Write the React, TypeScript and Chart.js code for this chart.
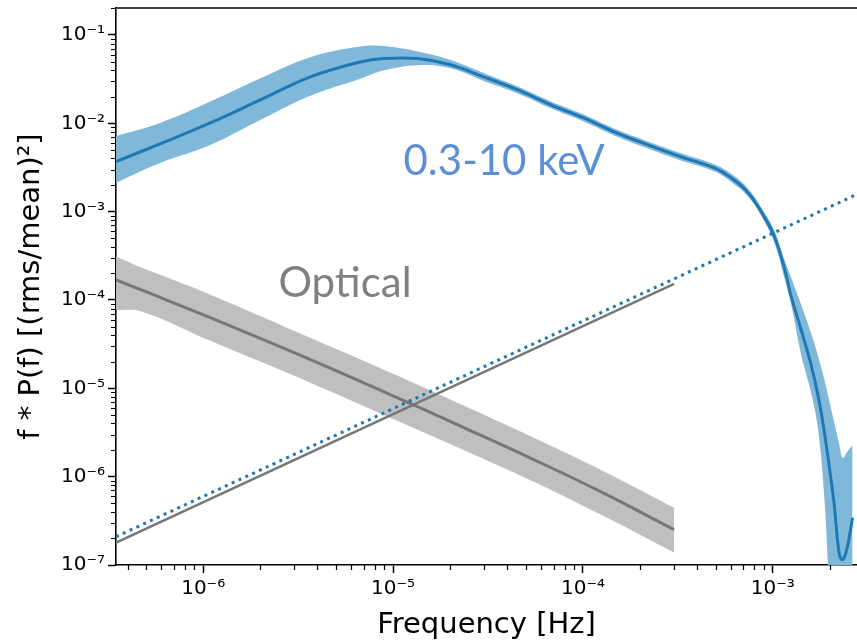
import React, { useEffect, useRef } from 'react';
import { Chart, registerables } from 'chart.js';

Chart.register(...registerables);

// ---------- data ----------
const xrayFreq = [
  3.48e-7, 5.93e-7, 1.09e-6, 2.0e-6, 3.67e-6, 6.73e-6, 8.9e-6, 1.35e-5, 2.01e-5,
  3.0e-5, 4.54e-5, 6.78e-5, 1.01e-4, 1.46e-4, 2.2e-4, 3.29e-4, 4.91e-4, 6.04e-4,
  7.43e-4, 9.02e-4, 1.02e-3, 1.15e-3, 1.25e-3, 1.41e-3, 1.6e-3, 1.74e-3, 1.87e-3,
  2.09e-3, 2.24e-3, 2.33e-3, 2.45e-3, 2.63e-3,
];
const xrayMedian = [
  3.69e-3, 5.85e-3, 1.01e-2, 1.84e-2, 3.35e-2, 4.95e-2, 5.4e-2, 5.4e-2, 4.6e-2,
  3.35e-2, 2.39e-2, 1.62e-2, 1.15e-2, 8.0e-3, 5.7e-3, 4.17e-3, 3.13e-3, 2.41e-3,
  1.63e-3, 8.73e-4, 5.19e-4, 2.31e-4, 1.09e-4, 4.6e-5, 1.75e-5, 7.8e-6, 3.15e-6,
  5.5e-7, 1.31e-7, 1.15e-7, 1.49e-7, 3.43e-7,
];
const xrayUpper = [
  7.2e-3, 1.01e-2, 1.76e-2, 3.23e-2, 5.6e-2, 7.4e-2, 7.5e-2, 6.5e-2, 5.21e-2,
  3.72e-2, 2.61e-2, 1.77e-2, 1.26e-2, 8.75e-3, 6.24e-3, 4.57e-3, 3.43e-3, 2.68e-3,
  1.81e-3, 9.8e-4, 6.07e-4, 2.85e-4, 1.78e-4, 8.83e-5, 4.04e-5, 2.22e-5, 1.25e-5,
  4.42e-6, 2.3e-6, 1.64e-6, 1.87e-6, 2.3e-6,
];
const xrayLower = [
  2.13e-3, 3.56e-3, 5.7e-3, 1.09e-2, 2.05e-2, 3.2e-2, 3.95e-2, 4.55e-2, 4.2e-2,
  3.02e-2, 2.18e-2, 1.48e-2, 1.05e-2, 7.3e-3, 5.2e-3, 3.8e-3, 2.86e-3, 2.17e-3,
  1.47e-3, 7.76e-4, 4.43e-4, 1.78e-4, 8.83e-5, 2.4e-5, 8.47e-6, 3.15e-6, 5.5e-7,
  1e-8, 1e-8, 1e-8, 1e-8, 1e-8,
];

const opticalFreq = [3.48e-7, 4.77e-7, 1.09e-6, 3.67e-6, 1.24e-5, 2.47e-5, 5.51e-5, 1.24e-4, 3.02e-4];
const opticalMedian = [1.69e-4, 1.29e-4, 6.3e-5, 2.11e-5, 6.7e-6, 3.44e-6, 1.56e-6, 6.76e-7, 2.51e-7];
const opticalUpper = [3.08e-4, 2.31e-4, 1.15e-4, 3.73e-5, 1.19e-5, 6.11e-6, 2.76e-6, 1.2e-6, 4.46e-7];
const opticalLower = [7.75e-5, 7.36e-5, 3.45e-5, 1.16e-5, 3.68e-6, 1.92e-6, 8.77e-7, 3.72e-7, 1.38e-7];

const opticalRiseFreq = [3.48e-7, 3.02e-4];
const opticalRise = [1.79e-7, 1.52e-4];

const whiteNoiseFreq = [3.475e-7, 2.775e-3];
const whiteNoise = [2.09e-7, 1.57e-3];

const xTickValues = [1e-6, 1e-5, 1e-4, 1e-3];
const xTickLabels = ['10⁻⁶', '10⁻⁵', '10⁻⁴', '10⁻³'];
const yTickValues = [1e-7, 1e-6, 1e-5, 1e-4, 1e-3, 1e-2, 1e-1];
const yTickLabels = ['10⁻⁷', '10⁻⁶', '10⁻⁵', '10⁻⁴', '10⁻³', '10⁻²', '10⁻¹'];

const X_MIN = 3.475e-7;
const X_MAX = 2.775e-3;
const Y_MIN = 1e-7;
const Y_MAX = 0.202;

const xrayLabel = { text: '0.3-10 keV', f: 1.135e-5, v: 2.6e-3 };
const opticalLabel = { text: 'Optical', f: 2.49e-6, v: 1.09e-4 };

// ---------- helpers ----------
const pts = (xs: number[], ys: number[]) => xs.map((x, i) => ({ x, y: ys[i] }));

const BLUE = '#1f77b4';
const BLUE_BAND = '#80b8da';
const GREY = '#777777';
const GREY_BAND = '#bfbfbf';

const decorPlugin = {
  id: 'decor',
  afterDatasetsDraw(chart: any) {
    const { ctx, scales } = chart;
    const x = scales.x;
    const y = scales.y;
    ctx.save();
    ctx.textBaseline = 'alphabetic';
    ctx.textAlign = 'left';
    ctx.font = '42px Lato';
    ctx.fillStyle = '#5a8fd8';
    ctx.fillText(xrayLabel.text, x.getPixelForValue(xrayLabel.f), y.getPixelForValue(xrayLabel.v));
    ctx.fillStyle = '#808080';
    ctx.fillText(opticalLabel.text, x.getPixelForValue(opticalLabel.f), y.getPixelForValue(opticalLabel.v));
    ctx.restore();
  },
  afterDraw(chart: any) {
    const { ctx, chartArea, scales } = chart;
    const x = scales.x;
    const y = scales.y;
    ctx.save();
    ctx.strokeStyle = '#000';
    ctx.lineWidth = 1.2;
    ctx.beginPath();
    for (let e = -8; e <= 0; e++) {
      for (let k = 2; k <= 9; k++) {
        const v = k * Math.pow(10, e);
        if (v > x.min && v < x.max) {
          const px = Math.round(x.getPixelForValue(v)) + 0.5;
          ctx.moveTo(px, chartArea.bottom);
          ctx.lineTo(px, chartArea.bottom + 5);
        }
        if (v > y.min && v < y.max) {
          const py = Math.round(y.getPixelForValue(v)) + 0.5;
          ctx.moveTo(chartArea.left, py);
          ctx.lineTo(chartArea.left - 5, py);
        }
      }
    }
    ctx.stroke();
    ctx.lineWidth = 1.6;
    ctx.beginPath();
    ctx.moveTo(chartArea.left, chartArea.top);
    ctx.lineTo(chartArea.right, chartArea.top);
    ctx.stroke();
    ctx.restore();
  },
};

export default function App() {
  const ref = useRef<HTMLCanvasElement | null>(null);

  useEffect(() => {
    if (!ref.current) return;
    const common = { pointRadius: 0, tension: 0.4 };
    const chart = new Chart(ref.current, {
      type: 'line',
      data: {
        datasets: [
          {
            data: pts(whiteNoiseFreq, whiteNoise),
            borderColor: BLUE,
            borderWidth: 3,
            borderDash: [3, 4.5],
            fill: false,
            pointRadius: 0,
            order: 0,
          },
          {
            data: pts(xrayFreq, xrayMedian),
            borderColor: BLUE,
            borderWidth: 3,
            fill: false,
            order: 1,
            ...common,
          },
          {
            data: pts(xrayFreq, xrayLower),
            borderWidth: 0,
            borderColor: 'rgba(0,0,0,0)',
            fill: false,
            order: 2,
            ...common,
          },
          {
            data: pts(xrayFreq, xrayUpper),
            borderWidth: 0,
            borderColor: 'rgba(0,0,0,0)',
            backgroundColor: BLUE_BAND,
            fill: '-1',
            order: 3,
            ...common,
          },
          {
            data: pts(opticalRiseFreq, opticalRise),
            borderColor: GREY,
            borderWidth: 2.5,
            fill: false,
            pointRadius: 0,
            order: 4,
          },
          {
            data: pts(opticalFreq, opticalMedian),
            borderColor: GREY,
            borderWidth: 3,
            fill: false,
            order: 5,
            ...common,
          },
          {
            data: pts(opticalFreq, opticalLower),
            borderWidth: 0,
            borderColor: 'rgba(0,0,0,0)',
            fill: false,
            order: 6,
            ...common,
          },
          {
            data: pts(opticalFreq, opticalUpper),
            borderWidth: 0,
            borderColor: 'rgba(0,0,0,0)',
            backgroundColor: GREY_BAND,
            fill: '-1',
            order: 7,
            ...common,
          },
        ],
      },
      options: {
        animation: false,
        responsive: false,
        events: [],
        layout: { padding: { left: 0, top: 8, right: 0, bottom: 0 } },
        plugins: { legend: { display: false }, tooltip: { enabled: false } },
        scales: {
          x: {
            type: 'logarithmic',
            min: X_MIN,
            max: X_MAX,
            bounds: 'data',
            afterBuildTicks: (scale: any) => {
              scale.ticks = xTickValues.map((v) => ({ value: v }));
            },
            afterFit: (scale: any) => {
              scale.height = 75;
              scale.paddingLeft = 0;
              scale.paddingRight = 0;
            },
            grid: {
              display: true,
              drawOnChartArea: false,
              drawTicks: true,
              tickLength: 8,
              tickWidth: 1.5,
              tickColor: '#000',
            },
            border: { display: true, color: '#000', width: 1.6 },
            ticks: {
              autoSkip: false,
              maxRotation: 0,
              padding: 4,
              color: '#000',
              font: { family: 'DejaVu Sans', size: 20 },
              callback: (_v: any, i: number) => xTickLabels[i],
            },
            title: {
              display: true,
              text: 'Frequency [Hz]',
              color: '#000',
              font: { family: 'DejaVu Sans', size: 29 },
              padding: { top: 0, bottom: -3 },
            },
          },
          y: {
            type: 'logarithmic',
            min: Y_MIN,
            max: Y_MAX,
            bounds: 'data',
            afterBuildTicks: (scale: any) => {
              scale.ticks = yTickValues.map((v) => ({ value: v }));
            },
            afterFit: (scale: any) => {
              scale.width = 116;
              scale.paddingTop = 0;
              scale.paddingBottom = 0;
            },
            grid: {
              display: true,
              drawOnChartArea: false,
              drawTicks: true,
              tickLength: 8,
              tickWidth: 1.5,
              tickColor: '#000',
            },
            border: { display: true, color: '#000', width: 1.6 },
            ticks: {
              autoSkip: false,
              padding: 3,
              color: '#000',
              font: { family: 'DejaVu Sans', size: 20 },
              callback: (_v: any, i: number) => yTickLabels[i],
            },
            title: {
              display: true,
              text: 'f * P(f) [(rms/mean)²]',
              color: '#000',
              font: { family: 'DejaVu Sans', size: 29 },
              padding: { top: 14, bottom: 0 },
            },
          },
        },
      },
      plugins: [decorPlugin],
    } as any);
    return () => chart.destroy();
  }, []);

  return (
    <div style={{ position: 'absolute', left: 0, top: 0, width: 857, height: 640, background: '#fff' }}>
      <canvas ref={ref} width={857} height={640} style={{ display: 'block' }} />
    </div>
  );
}
